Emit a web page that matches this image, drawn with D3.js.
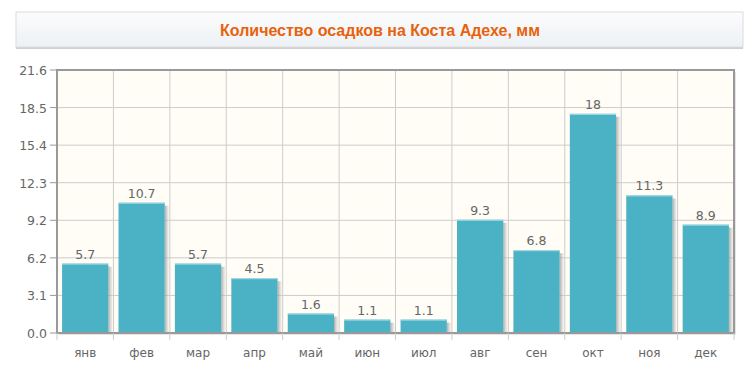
<!DOCTYPE html>
<html><head><meta charset="utf-8">
<script src="https://cdn.jsdelivr.net/npm/d3@7"></script>
<style>
body{margin:0;background:#fff;}
svg text{font-family:"DejaVu Sans",Verdana,sans-serif;}
svg text.title{font-family:"Liberation Sans",Arial,sans-serif;}
</style></head><body>
<svg id="c" width="753" height="371"></svg>
<script>
const title = "Количество осадков на Коста Адехе, мм";
const months = ["янв","фев","мар","апр","май","июн","июл","авг","сен","окт","ноя","дек"];
const rain = [5.7,10.7,5.7,4.5,1.6,1.1,1.1,9.3,6.8,18,11.3,8.9];
const yTickLabels = ["0.0","3.1","6.2","9.2","12.3","15.4","18.5","21.6"];
const yMax = 21.6;

const svg = d3.select("#c");
const defs = svg.append("defs");
const tg = defs.append("linearGradient").attr("id","tg").attr("x1",0).attr("y1",0).attr("x2",0).attr("y2",1);
tg.append("stop").attr("offset","0").attr("stop-color","#fbfcfd");
tg.append("stop").attr("offset","1").attr("stop-color","#edf1f5");
const sg = defs.append("linearGradient").attr("id","sg").attr("x1",0).attr("y1",0).attr("x2",1).attr("y2",0);
sg.append("stop").attr("offset","0").attr("stop-color","#8a8a8a").attr("stop-opacity",0.7);
sg.append("stop").attr("offset","1").attr("stop-color","#cfcfcf").attr("stop-opacity",0.3);

// title box
svg.append("rect").attr("x",16).attr("y",14).attr("width",727).attr("height",35).attr("fill","#cfcfcf");
svg.append("rect").attr("x",16).attr("y",12).attr("width",727).attr("height",35).attr("fill","url(#tg)")
  .attr("stroke","#dcdcdc").attr("stroke-width",1);
svg.append("text").attr("class","title").attr("x",380).attr("y",35.5).attr("text-anchor","middle")
  .attr("font-size",16).attr("font-weight","bold").attr("fill","#e8620c").text(title);

const L=57, R=734, T=70, B=333;
const x = d3.scaleBand().domain(months).range([L,R]).paddingInner(0.18).paddingOuter(0.09);
const xb = d3.scaleLinear().domain([0,12]).range([L,R]);
const y = d3.scaleLinear().domain([0,yMax]).range([B,T]);
const yVals = yTickLabels.map((d,i)=>yMax*i/(yTickLabels.length-1));

// plot shadow
svg.append("rect").attr("x",L+2).attr("y",T+2).attr("width",R-L).attr("height",B-T).attr("fill","#e6e6e6");
svg.append("rect").attr("x",L).attr("y",T).attr("width",R-L).attr("height",B-T).attr("fill","#fffdf6");

// grid
const g = svg.append("g");
g.selectAll("line.h").data(yVals).join("line")
  .attr("x1",L).attr("x2",R).attr("y1",d=>y(d)).attr("y2",d=>y(d)).attr("stroke","#cccccc");
g.selectAll("line.v").data(d3.range(1,12)).join("line")
  .attr("x1",d=>xb(d)).attr("x2",d=>xb(d)).attr("y1",T).attr("y2",B).attr("stroke","#cccccc");

// bars
const bars = svg.append("g");
bars.selectAll("rect.s").data(rain).join("rect")
  .attr("x",(d,i)=>x(months[i])+x.bandwidth()).attr("y",d=>y(d)+3)
  .attr("width",4).attr("height",d=>B-y(d)-3).attr("fill","url(#sg)");
bars.selectAll("rect.b").data(rain).join("rect")
  .attr("x",(d,i)=>x(months[i])).attr("y",d=>y(d))
  .attr("width",x.bandwidth()).attr("height",d=>B-y(d)).attr("fill","#4bb2c5");
bars.selectAll("line.t").data(rain).join("line")
  .attr("x1",(d,i)=>x(months[i])).attr("x2",(d,i)=>x(months[i])+x.bandwidth())
  .attr("y1",d=>y(d)+0.5).attr("y2",d=>y(d)+0.5).attr("stroke","#a8dde6");
bars.selectAll("text").data(rain).join("text")
  .attr("x",(d,i)=>x(months[i])+x.bandwidth()/2).attr("y",d=>y(d)-5)
  .attr("text-anchor","middle").attr("font-size",12.5).attr("fill","#666").text(d=>d);

// border
svg.append("rect").attr("x",L).attr("y",T).attr("width",R-L).attr("height",B-T)
  .attr("fill","none").attr("stroke","#999").attr("stroke-width",2);

// y axis ticks
const ya = svg.append("g");
ya.selectAll("line").data(yVals).join("line")
  .attr("x1",L-7).attr("x2",L).attr("y1",d=>y(d)).attr("y2",d=>y(d)).attr("stroke","#999");
ya.selectAll("text").data(yVals).join("text")
  .attr("x",L-10).attr("y",d=>y(d)+5).attr("text-anchor","end").attr("font-size",12.5).attr("fill","#666")
  .text((d,i)=>yTickLabels[i]);

// x axis
const xa = svg.append("g");
xa.selectAll("line").data(d3.range(0,13)).join("line")
  .attr("x1",d=>xb(d)).attr("x2",d=>xb(d)).attr("y1",B).attr("y2",B+7).attr("stroke","#ccc");
xa.selectAll("text").data(months).join("text")
  .attr("x",d=>x(d)+x.bandwidth()/2).attr("y",B+24).attr("text-anchor","middle")
  .attr("font-size",12).attr("fill","#666").text(d=>d);
</script></body></html>
